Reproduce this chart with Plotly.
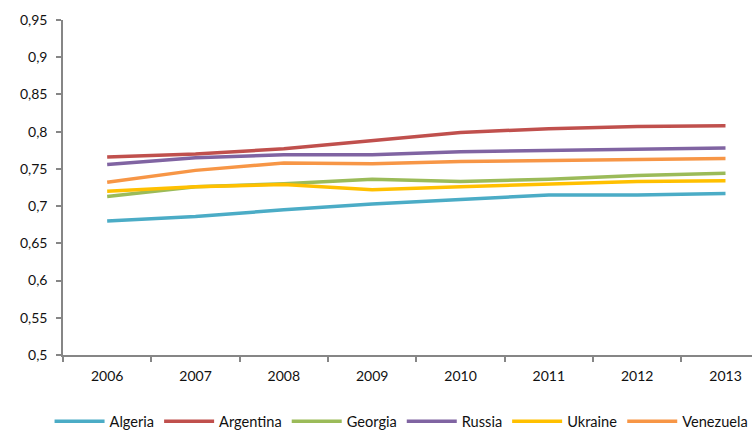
import plotly.graph_objects as go

years = [2006, 2007, 2008, 2009, 2010, 2011, 2012, 2013]

algeria = [0.680, 0.686, 0.695, 0.703, 0.709, 0.715, 0.715, 0.717]
argentina = [0.766, 0.770, 0.777, 0.788, 0.799, 0.804, 0.807, 0.808]
georgia = [0.713, 0.726, 0.730, 0.736, 0.733, 0.736, 0.741, 0.744]
russia = [0.756, 0.765, 0.769, 0.769, 0.773, 0.775, 0.777, 0.778]
ukraine = [0.720, 0.726, 0.729, 0.722, 0.726, 0.729, 0.733, 0.734]
venezuela = [0.732, 0.748, 0.758, 0.757, 0.760, 0.761, 0.762, 0.764]

series = [
    ("Algeria", algeria, "#4BACC6"),
    ("Argentina", argentina, "#C0504D"),
    ("Georgia", georgia, "#9BBB59"),
    ("Russia", russia, "#8064A2"),
    ("Ukraine", ukraine, "#FFC000"),
    ("Venezuela", venezuela, "#F79646"),
]

y_ticks = [0.5, 0.55, 0.6, 0.65, 0.7, 0.75, 0.8, 0.85, 0.9, 0.95]
y_labels = ["0,5", "0,55", "0,6", "0,65", "0,7", "0,75", "0,8", "0,85", "0,9", "0,95"]

fig = go.Figure()
for name, vals, color in series:
    fig.add_trace(go.Scatter(
        x=years, y=vals, name=name, mode="lines",
        line=dict(color=color, width=3.5),
    ))

axis_color = "#868686"
font = dict(family="Lato, Open Sans, sans-serif", size=14, color="#111111")

fig.update_layout(
    width=752, height=430,
    margin=dict(l=63, r=0, t=20, b=75, autoexpand=False),
    paper_bgcolor="white", plot_bgcolor="white",
    font=font,
    showlegend=True,
    legend=dict(
        orientation="h", x=-0.0195, xanchor="left", y=-0.15, yanchor="top",
        font=dict(family="Lato, Open Sans, sans-serif", size=14.6, color="#111111"),
        itemwidth=50, tracegroupgap=0,
    ),
    xaxis=dict(
        range=[2005.5, 2013.3],
        tickvals=years, ticktext=[str(y) for y in years],
        ticks="", showgrid=False, zeroline=False,
        showline=True, linecolor=axis_color, linewidth=1.5,
        minor=dict(tick0=2005.5, dtick=1, ticks="outside", ticklen=5,
                   tickcolor=axis_color, tickwidth=1.5, showgrid=False),
        ticklabelstandoff=7,
    ),
    yaxis=dict(
        range=[0.5, 0.95],
        tickvals=y_ticks, ticktext=y_labels,
        ticks="outside", ticklen=5, tickcolor=axis_color, tickwidth=1.5,
        showgrid=False, zeroline=False,
        showline=True, linecolor=axis_color, linewidth=1.5,
        ticklabelstandoff=6,
    ),
)

fig.write_html("out.html")
